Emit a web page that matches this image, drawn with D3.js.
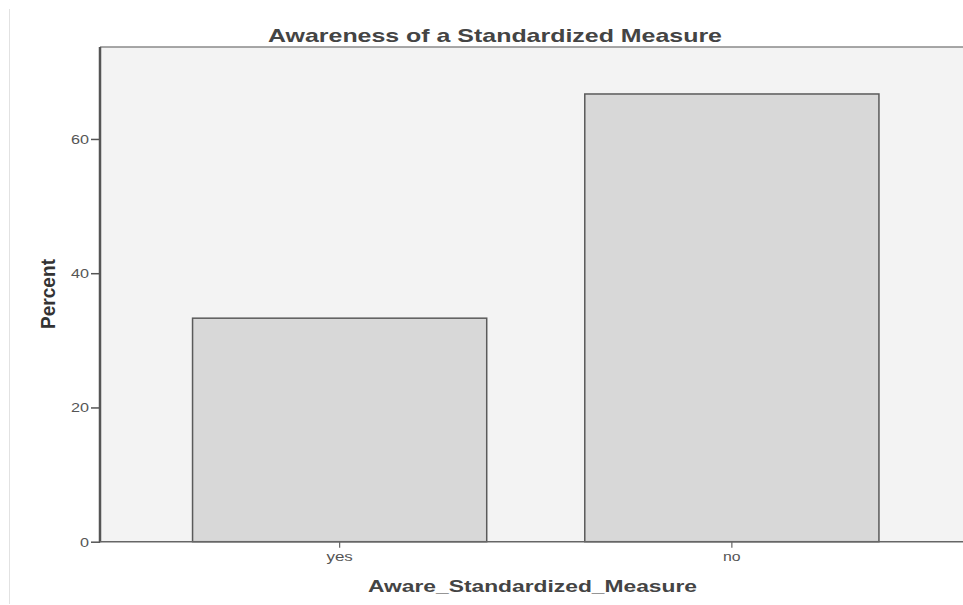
<!DOCTYPE html>
<html>
<head>
<meta charset="utf-8">
<script src="https://cdn.jsdelivr.net/npm/d3@7/dist/d3.min.js"></script>
<style>
  html, body { margin: 0; padding: 0; background: #ffffff; }
  svg { display: block; }
</style>
</head>
<body>
<svg id="chart" width="963" height="605"></svg>
<script>
const categories = ["yes", "no"];
const percents = [33.3, 66.7];
const yTicks = [0, 20, 40, 60];
const titleText = "Awareness of a Standardized Measure";
const xTitle = "Aware_Standardized_Measure";
const yTitle = "Percent";

const W = 963, H = 605;
const plot = { left: 100, top: 47, right: 963, bottom: 541.7 };
const FONT = "'Liberation Sans', Arial, sans-serif";

const svg = d3.select("#chart");

// faint left frame line
svg.append("line")
  .attr("x1", 9.5).attr("x2", 9.5).attr("y1", 9).attr("y2", 604)
  .attr("stroke", "#e2e2e2").attr("stroke-width", 1);

const x = d3.scaleBand()
  .domain(categories)
  .range([94.5, 977])
  .padding(0.25);

const y = d3.scaleLinear()
  .domain([0, 73.7])
  .range([plot.bottom, plot.top]);

// plot background
svg.append("rect")
  .attr("x", plot.left).attr("y", plot.top)
  .attr("width", plot.right - plot.left)
  .attr("height", plot.bottom - plot.top)
  .attr("fill", "#f3f3f3");

// top border
svg.append("line")
  .attr("x1", plot.left).attr("x2", plot.right)
  .attr("y1", plot.top).attr("y2", plot.top)
  .attr("stroke", "#8a8a8a").attr("stroke-width", 1.5);

// bars
svg.append("g").selectAll("rect")
  .data(categories.map((c, i) => ({ c, v: percents[i] })))
  .join("rect")
  .attr("x", d => x(d.c))
  .attr("y", d => y(d.v))
  .attr("width", x.bandwidth())
  .attr("height", d => y(0) - y(d.v))
  .attr("fill", "#d8d8d8")
  .attr("stroke", "#5a5a5a")
  .attr("stroke-width", 1.5);

// stretch helper: approximate the wide rendering of the original
function stretch(sel, perChar) {
  sel.each(function () {
    const t = d3.select(this);
    const n = t.text().length;
    t.attr("textLength", n * perChar).attr("lengthAdjust", "spacingAndGlyphs");
  });
}

// y axis
const yAxis = svg.append("g")
  .attr("transform", `translate(${plot.left},0)`)
  .call(d3.axisLeft(y).tickValues(yTicks).tickSize(9).tickSizeOuter(0).tickPadding(2));
yAxis.select(".domain").remove();
yAxis.selectAll(".tick line").attr("stroke", "#555").attr("stroke-width", 1.5);
yAxis.selectAll(".tick text")
  .attr("fill", "#555")
  .style("font-family", FONT)
  .style("font-size", "13.5px")
  .call(stretch, 9);
svg.append("line")
  .attr("x1", plot.left).attr("x2", plot.left)
  .attr("y1", plot.top).attr("y2", plot.bottom + 0.5)
  .attr("stroke", "#555").attr("stroke-width", 2.5);

// x axis
const xAxis = svg.append("g")
  .attr("transform", `translate(0,${plot.bottom})`)
  .call(d3.axisBottom(x).tickSize(6).tickSizeOuter(0).tickPadding(4));
xAxis.select(".domain").remove();
xAxis.selectAll(".tick line").attr("stroke", "#666").attr("stroke-width", 1.2);
xAxis.selectAll(".tick text")
  .attr("fill", "#555")
  .style("font-family", FONT)
  .style("font-size", "13px")
  .call(stretch, 8.8);
svg.append("line")
  .attr("x1", plot.left).attr("x2", plot.right)
  .attr("y1", plot.bottom).attr("y2", plot.bottom)
  .attr("stroke", "#666").attr("stroke-width", 1.5);

// title
svg.append("text")
  .attr("x", 495).attr("y", 42)
  .attr("text-anchor", "middle")
  .attr("fill", "#444")
  .attr("textLength", 454).attr("lengthAdjust", "spacingAndGlyphs")
  .style("font-family", FONT)
  .style("font-weight", "bold")
  .style("font-size", "18.5px")
  .text(titleText);

// x title
svg.append("text")
  .attr("x", 532.5).attr("y", 592)
  .attr("text-anchor", "middle")
  .attr("fill", "#444")
  .attr("textLength", 329).attr("lengthAdjust", "spacingAndGlyphs")
  .style("font-family", FONT)
  .style("font-weight", "bold")
  .style("font-size", "17px")
  .text(xTitle);

// y title
svg.append("text")
  .attr("transform", "translate(55,294) rotate(-90)")
  .attr("text-anchor", "middle")
  .attr("fill", "#333")
  .attr("textLength", 70).attr("lengthAdjust", "spacingAndGlyphs")
  .style("font-family", FONT)
  .style("font-weight", "bold")
  .style("font-size", "21px")
  .text(yTitle);
</script>
</body>
</html>
